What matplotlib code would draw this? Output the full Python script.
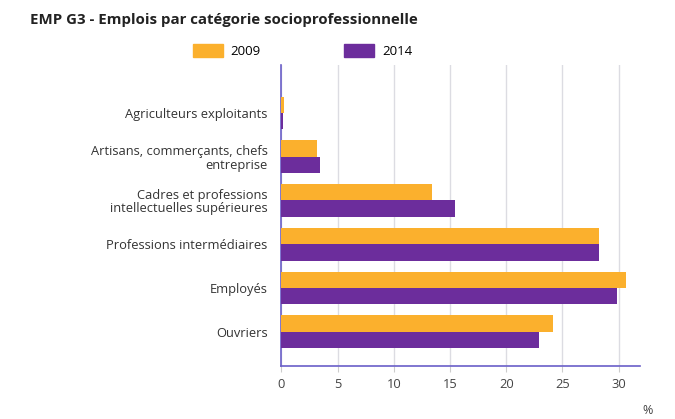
import matplotlib
matplotlib.use("Agg")
import matplotlib.pyplot as plt
import numpy as np
from matplotlib.patches import Patch

plt.rcParams['font.family'] = ['Open Sans', 'DejaVu Sans']

# categories from top to bottom
categories = [
    "Agriculteurs exploitants",
    "Artisans, commerçants, chefs\nentreprise",
    "Cadres et professions\nintellectuelles supérieures",
    "Professions intermédiaires",
    "Employés",
    "Ouvriers",
]
values_2009 = [0.2, 3.2, 13.4, 28.3, 30.7, 24.2]
values_2014 = [0.1, 3.4, 15.4, 28.3, 29.9, 22.9]
xticks = [0, 5, 10, 15, 20, 25, 30]

orange = "#fbb02d"
purple = "#6c2d9c"
axis_col = "#6a5fc8"

fig = plt.figure(figsize=(6.75, 4.19), dpi=100)
ax = fig.add_axes([0.417, 0.127, 0.531, 0.718])

n = len(categories)
pos = np.arange(n)[::-1]
h = 0.375
ax.barh(pos + h / 2, values_2009, height=h, color=orange, zorder=3)
ax.barh(pos - h / 2, values_2014, height=h, color=purple, zorder=3)

ax.set_xlim(0, 31.9)
ax.set_ylim(-0.78, 6.1)
ax.set_xticks(xticks)
ax.set_yticks(pos)
ax.set_yticklabels(categories, fontsize=9.3, color="#333333", linespacing=1.05)
ax.tick_params(axis='y', length=0, pad=10)
ax.tick_params(axis='x', length=4, color="#cccccc", labelsize=9.3, labelcolor="#444444", pad=5)
ax.grid(axis='x', color="#dcdce2", linewidth=1, zorder=0)

for s in ['top', 'right']:
    ax.spines[s].set_visible(False)
for s in ['left', 'bottom']:
    ax.spines[s].set_color(axis_col)
    ax.spines[s].set_linewidth(1.2)

fig.text(0.044, 0.952, "EMP G3 - Emplois par catégorie socioprofessionnelle",
         fontsize=10.8, fontweight='bold', color="#222222", va='center')
fig.text(0.96, 0.02, "%", fontsize=9, color="#444444", ha='center', va='center')

handles = [Patch(color=orange, label="2009"), Patch(color=purple, label="2014")]
fig.legend(handles=handles, ncol=2, loc='center left', bbox_to_anchor=(0.268, 0.879),
           frameon=False, fontsize=9.5, handlelength=2.27, handleheight=1.18,
           columnspacing=6.3, handletextpad=0.6)

fig.savefig("out.png", dpi=100)
